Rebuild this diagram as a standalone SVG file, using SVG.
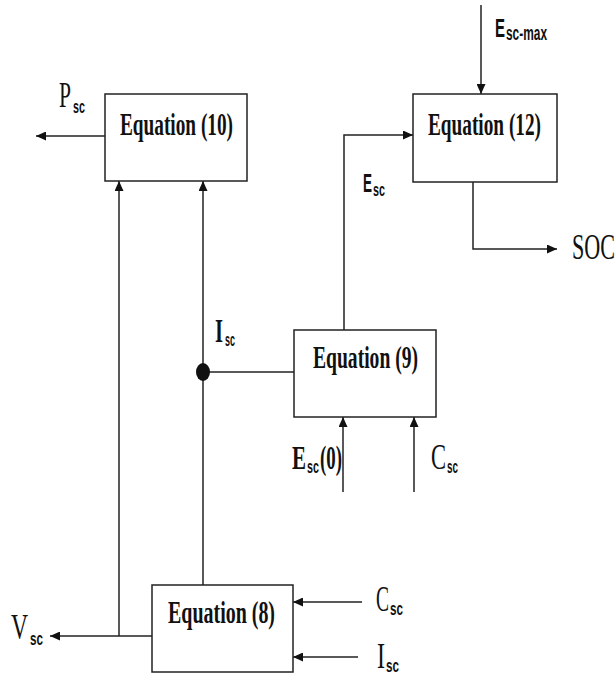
<svg xmlns="http://www.w3.org/2000/svg" width="616" height="675" viewBox="0 0 616 675">
<style>
.box{fill:#fff;stroke:#222;stroke-width:1.5}
.ln{fill:none;stroke:#222;stroke-width:1.5}
.arr{marker-end:url(#ah)}
.eq{font-family:"Liberation Serif","Times New Roman",serif;font-weight:bold;font-size:31px;fill:#111}
.lb{font-family:"Liberation Serif","Times New Roman",serif;font-size:35px;fill:#111}
.lbb{font-family:"Liberation Serif","Times New Roman",serif;font-weight:bold;font-size:34px;fill:#111}
.es{font-family:"Liberation Sans",Arial,sans-serif;font-weight:bold;font-size:25px;fill:#111}
.sub{font-family:"Liberation Sans",Arial,sans-serif;font-weight:bold;font-size:18px;fill:#111}
</style>
<defs>
<marker id="ah" markerWidth="10" markerHeight="9" refX="10" refY="4.5" orient="auto" markerUnits="userSpaceOnUse">
<path d="M0,0 L10,4.5 L0,9 z" fill="#111"/>
</marker>
</defs>
<g id="connectors">
<path class="ln arr" d="M105,136 H36"/>
<path class="ln arr" d="M119,636 V181"/>
<path class="ln arr" d="M152,636 H50"/>
<path class="ln arr" d="M203,585 V181"/>
<path class="ln" d="M203,372 H294"/>
<ellipse cx="203" cy="372" rx="7" ry="9" fill="#111"/>
<path class="ln arr" d="M344,330 V135 H413"/>
<path class="ln arr" d="M481,5 V94"/>
<path class="ln arr" d="M473,182 V249 H557"/>
<path class="ln arr" d="M343,492 V417"/>
<path class="ln arr" d="M414,492 V417"/>
<path class="ln arr" d="M362,602 H293"/>
<path class="ln arr" d="M358,657 H293"/>
</g>
<g id="eq10">
<rect class="box" x="105" y="94" width="142" height="87"/>
<text class="eq" x="120" y="135" textLength="113" lengthAdjust="spacingAndGlyphs">Equation (10)</text>
</g>
<g id="eq12">
<rect class="box" x="413" y="94" width="144" height="88"/>
<text class="eq" x="428" y="135" textLength="113" lengthAdjust="spacingAndGlyphs">Equation (12)</text>
</g>
<g id="eq9">
<rect class="box" x="294" y="330" width="142" height="87"/>
<text class="eq" x="313" y="368" textLength="105" lengthAdjust="spacingAndGlyphs">Equation (9)</text>
</g>
<g id="eq8">
<rect class="box" x="152" y="585" width="141" height="87"/>
<text class="eq" x="168" y="623" textLength="107" lengthAdjust="spacingAndGlyphs">Equation (8)</text>
</g>
<g id="labels">
<text class="lb" x="59" y="107" textLength="12" lengthAdjust="spacingAndGlyphs">P</text>
<text class="sub" x="73" y="113" textLength="12" lengthAdjust="spacingAndGlyphs">sc</text>
<text class="es" x="495" y="37" textLength="10" lengthAdjust="spacingAndGlyphs">E</text>
<text class="sub" x="506" y="40" textLength="41" lengthAdjust="spacingAndGlyphs" style="font-size:20px">sc-max</text>
<text class="es" x="363" y="192" textLength="9" lengthAdjust="spacingAndGlyphs">E</text>
<text class="sub" x="373" y="196" textLength="12" lengthAdjust="spacingAndGlyphs" style="font-size:19px">sc</text>
<text class="lbb" x="215" y="342" textLength="8" lengthAdjust="spacingAndGlyphs">I</text>
<text class="sub" x="225" y="346" textLength="10" lengthAdjust="spacingAndGlyphs">sc</text>
<text class="lbb" x="292" y="469" textLength="14" lengthAdjust="spacingAndGlyphs">E</text>
<text class="sub" x="307" y="473" textLength="12" lengthAdjust="spacingAndGlyphs">sc</text>
<text class="lbb" x="320" y="469" textLength="22" lengthAdjust="spacingAndGlyphs">(0)</text>
<text class="lb" x="431" y="469" textLength="15" lengthAdjust="spacingAndGlyphs">C</text>
<text class="sub" x="447" y="473" textLength="11" lengthAdjust="spacingAndGlyphs">sc</text>
<text class="lb" x="572" y="259" textLength="43" lengthAdjust="spacingAndGlyphs">SOC</text>
<text class="lb" x="11" y="639" textLength="17" lengthAdjust="spacingAndGlyphs">V</text>
<text class="sub" x="30" y="645" textLength="13" lengthAdjust="spacingAndGlyphs">sc</text>
<text class="lb" x="376" y="611" textLength="13" lengthAdjust="spacingAndGlyphs">C</text>
<text class="sub" x="390" y="615" textLength="13" lengthAdjust="spacingAndGlyphs">sc</text>
<text class="lb" x="377" y="668" textLength="8" lengthAdjust="spacingAndGlyphs">I</text>
<text class="sub" x="386" y="672" textLength="13" lengthAdjust="spacingAndGlyphs">sc</text>
</g>
</svg>
